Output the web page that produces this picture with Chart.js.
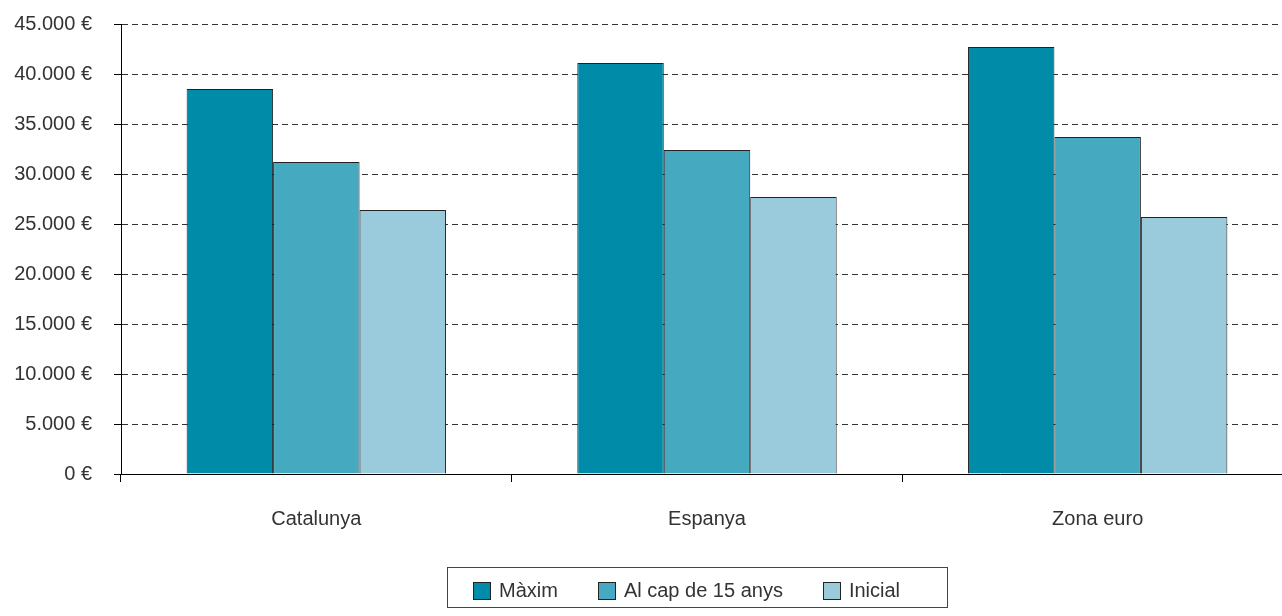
<!DOCTYPE html>
<html lang="ca">
<head>
    <meta charset="UTF-8">
    <title>Salari</title>
    <style>
        body {
            margin: 0;
            overflow: hidden;
            background: #fff;
            font-family: "Liberation Sans", Arial, sans-serif;
        }
        .chart-wrap {
            position: absolute;
            left: 0;
            top: 0;
            width: 1293px;
            height: 616px;
        }
        .legend {
            position: absolute;
            left: 447px;
            top: 567px;
            width: 501px;
            height: 41px;
            border: 1px solid #444;
            box-sizing: border-box;
            display: flex;
            align-items: center;
            padding: 6px 0 0 25px;
            font-size: 20px;
            color: #333;
        }
        .legend-item {
            display: flex;
            align-items: center;
            margin-right: 40px;
        }
        .legend-swatch {
            width: 16px;
            height: 16px;
            border: 1px solid #222;
            margin-right: 8px;
        }
    </style>
    <script src="https://cdn.jsdelivr.net/npm/chart.js"></script>
</head>
<body>
    <div class="chart-wrap">
        <canvas id="chart"></canvas>
    </div>
    <div id="legend" class="legend"></div>

    <script>
        const categories = ['Catalunya', 'Espanya', 'Zona euro'];
        const seriesNames = ['Màxim', 'Al cap de 15 anys', 'Inicial'];
        const maxim = [38500, 41100, 42700];
        const alCap15 = [31200, 32400, 33700];
        const inicial = [26400, 27700, 25700];
        const colors = ['#008ba8', '#45a9c0', '#9acbdc'];

        // format 45000 -> "45.000 €"
        function euro(v) {
            return String(v).replace(/\B(?=(\d{3})+(?!\d))/g, '.') + ' €';
        }

        const values = [maxim, alCap15, inicial];
        const datasets = seriesNames.map((name, i) => ({
            label: name,
            data: values[i],
            backgroundColor: colors[i],
            borderColor: '#222',
            borderWidth: 1,
            categoryPercentage: 0.664,
            barPercentage: 1.0
        }));

        const tickFont = { family: '"Liberation Sans", Arial, sans-serif', size: 20 };

        new Chart(document.getElementById('chart'), {
            type: 'bar',
            data: { labels: categories, datasets: datasets },
            options: {
                responsive: true,
                maintainAspectRatio: false,
                animation: false,
                layout: { padding: { top: 24, right: 0, bottom: 60, left: 0 } },
                plugins: {
                    legend: { display: false },
                    tooltip: { enabled: false }
                },
                scales: {
                    x: {
                        offset: true,
                        grid: {
                            offset: true,
                            drawOnChartArea: false,
                            drawTicks: true,
                            tickLength: 8,
                            tickColor: '#000',
                            color: '#000'
                        },
                        border: { display: true, color: '#000', width: 1 },
                        ticks: {
                            padding: 25,
                            color: '#333',
                            font: tickFont
                        }
                    },
                    y: {
                        min: 0,
                        max: 45000,
                        // fixed axis width; the tick padding should not push the plot down
                        afterFit: scale => {
                            scale.width = 121;
                            scale.paddingTop = 0;
                            scale.paddingBottom = 0;
                        },
                        grid: {
                            color: '#333',
                            lineWidth: 1,
                            tickLength: 7,
                            tickColor: '#000',
                            tickBorderDash: []
                        },
                        border: { display: true, color: '#000', width: 1, dash: [6, 4] },
                        ticks: {
                            stepSize: 5000,
                            padding: 22,
                            color: '#333',
                            font: tickFont,
                            callback: v => euro(v)
                        }
                    }
                }
            }
        });

        // legend below the chart, framed
        const legend = document.getElementById('legend');
        seriesNames.forEach((name, i) => {
            const item = document.createElement('div');
            item.className = 'legend-item';
            const sw = document.createElement('span');
            sw.className = 'legend-swatch';
            sw.style.background = colors[i];
            const txt = document.createElement('span');
            txt.textContent = name;
            item.appendChild(sw);
            item.appendChild(txt);
            legend.appendChild(item);
        });
    </script>
</body>
</html>
